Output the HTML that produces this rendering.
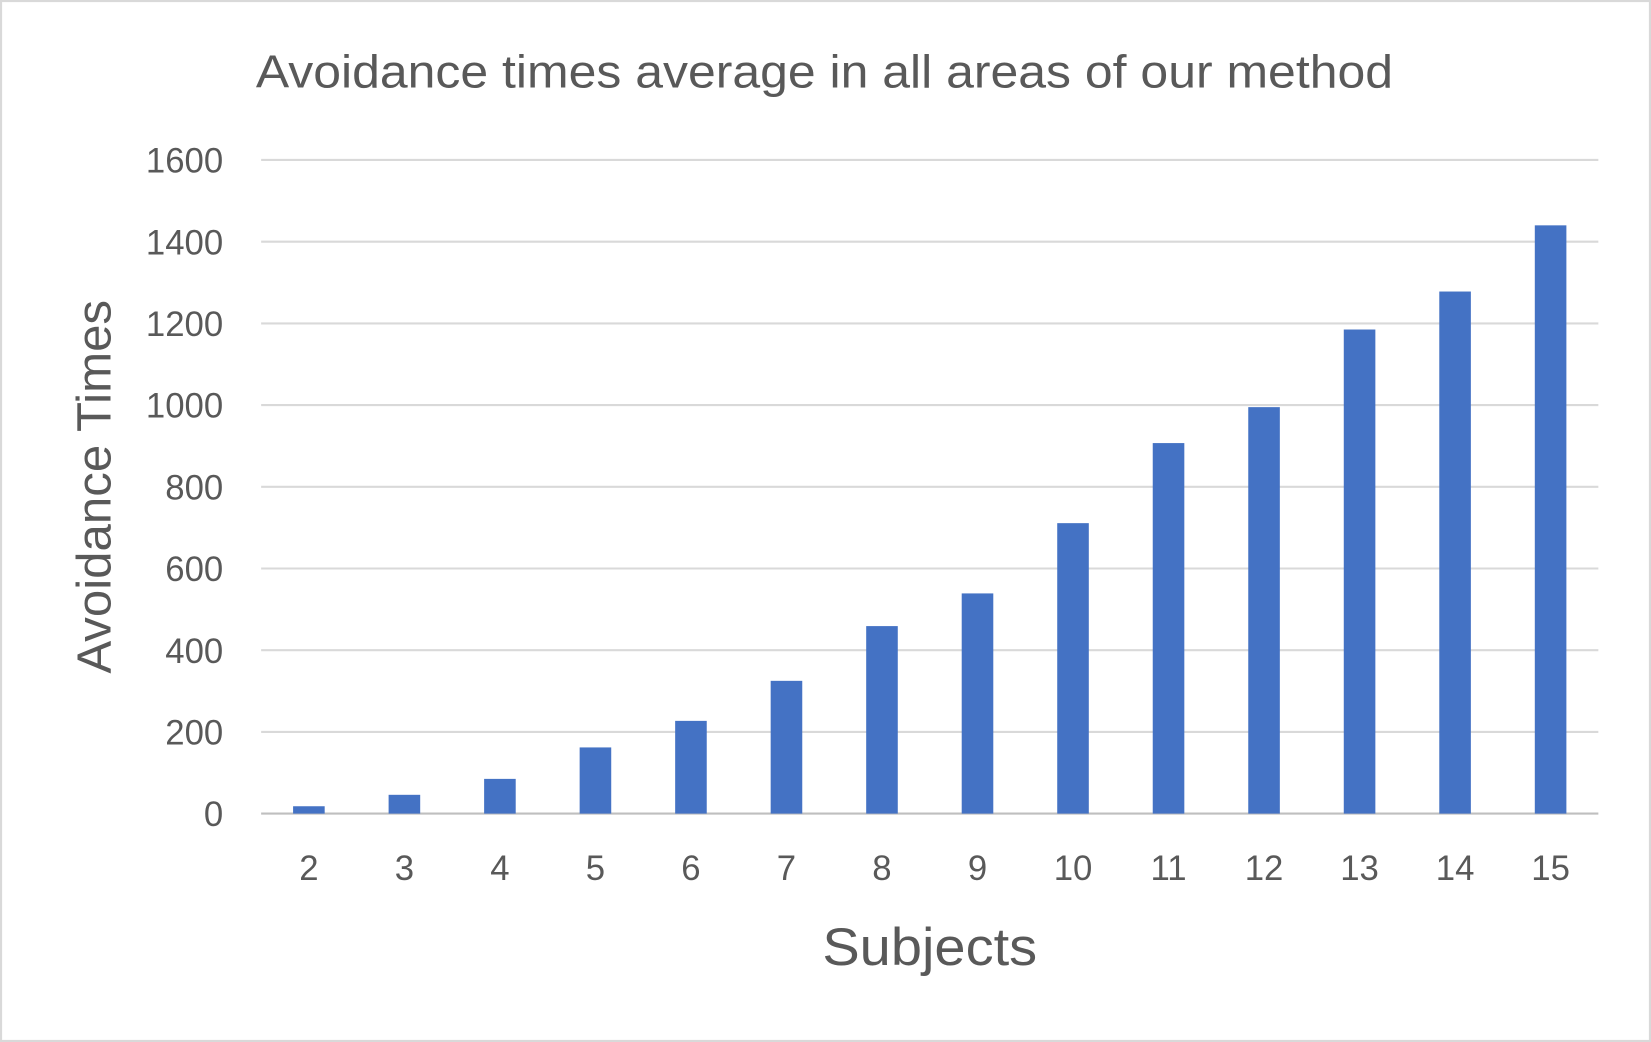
<!DOCTYPE html>
<html><head><meta charset="utf-8"><style>
html,body{margin:0;padding:0;background:#fff;}
svg{display:block;font-family:"Liberation Sans",sans-serif;}
</style></head><body>
<svg id="chart" width="1651" height="1042" viewBox="0 0 1568 990" preserveAspectRatio="none" xmlns="http://www.w3.org/2000/svg">
<rect x="1" y="1" width="1566" height="988" fill="#fff" stroke="#d9d9d9" stroke-width="2"/>
<text x="243" y="83" textLength="1080" lengthAdjust="spacingAndGlyphs" font-size="44" fill="#595959">Avoidance times average in all areas of our method</text>
<g id="grid"></g><g id="bars"></g><g id="ticks"></g>
<text x="781" y="917" textLength="204" lengthAdjust="spacingAndGlyphs" font-size="50" fill="#595959">Subjects</text>
<text transform="translate(105,640) rotate(-90)" textLength="355" lengthAdjust="spacingAndGlyphs" font-size="46" fill="#595959">Avoidance Times</text>
</svg>
<script>
const categories = ["2","3","4","5","6","7","8","9","10","11","12","13","14","15"];
const values = [18,46,85,162,227,325,459,539,711,907,995,1185,1278,1440];
const yTicks = [0,200,400,600,800,1000,1200,1400,1600];
const NS="http://www.w3.org/2000/svg";
const x0=248,x1=1518,yb=773,yt=152,yMax=1600;
const y=v=>yb-(v/yMax)*(yb-yt);
const band=(x1-x0)/categories.length;
const xc=i=>x0+band*(i+0.5);
const grid=document.getElementById('grid'),bars=document.getElementById('bars'),ticks=document.getElementById('ticks');
yTicks.forEach(t=>{
  const l=document.createElementNS(NS,'line');
  
  
  l.setAttribute('x1',x0);l.setAttribute('x2',x1);l.setAttribute('y1',y(t));l.setAttribute('y2',y(t));
  l.setAttribute('stroke',t===0?'#bfbfbf':'#d9d9d9');l.setAttribute('stroke-width','2');
  grid.appendChild(l);
  const tx=document.createElementNS(NS,'text');
  
  
  tx.setAttribute('x',212);tx.setAttribute('y',y(t)+12);tx.setAttribute('text-anchor','end');
  tx.setAttribute('font-size','33');tx.setAttribute('fill','#595959');tx.textContent=t;
  ticks.appendChild(tx);
});
const bw=30;
values.forEach((v,i)=>{
  const r=document.createElementNS(NS,'rect');
  
  
  r.setAttribute('x',xc(i)-bw/2);r.setAttribute('width',bw);
  r.setAttribute('y',y(v));r.setAttribute('height',yb-y(v));r.setAttribute('fill','#4472c4');
  bars.appendChild(r);
  const tx=document.createElementNS(NS,'text');
  
  
  tx.setAttribute('x',xc(i));tx.setAttribute('y',836);tx.setAttribute('text-anchor','middle');
  tx.setAttribute('font-size','33');tx.setAttribute('fill','#595959');tx.textContent=categories[i];
  ticks.appendChild(tx);
});
</script>
</body></html>
